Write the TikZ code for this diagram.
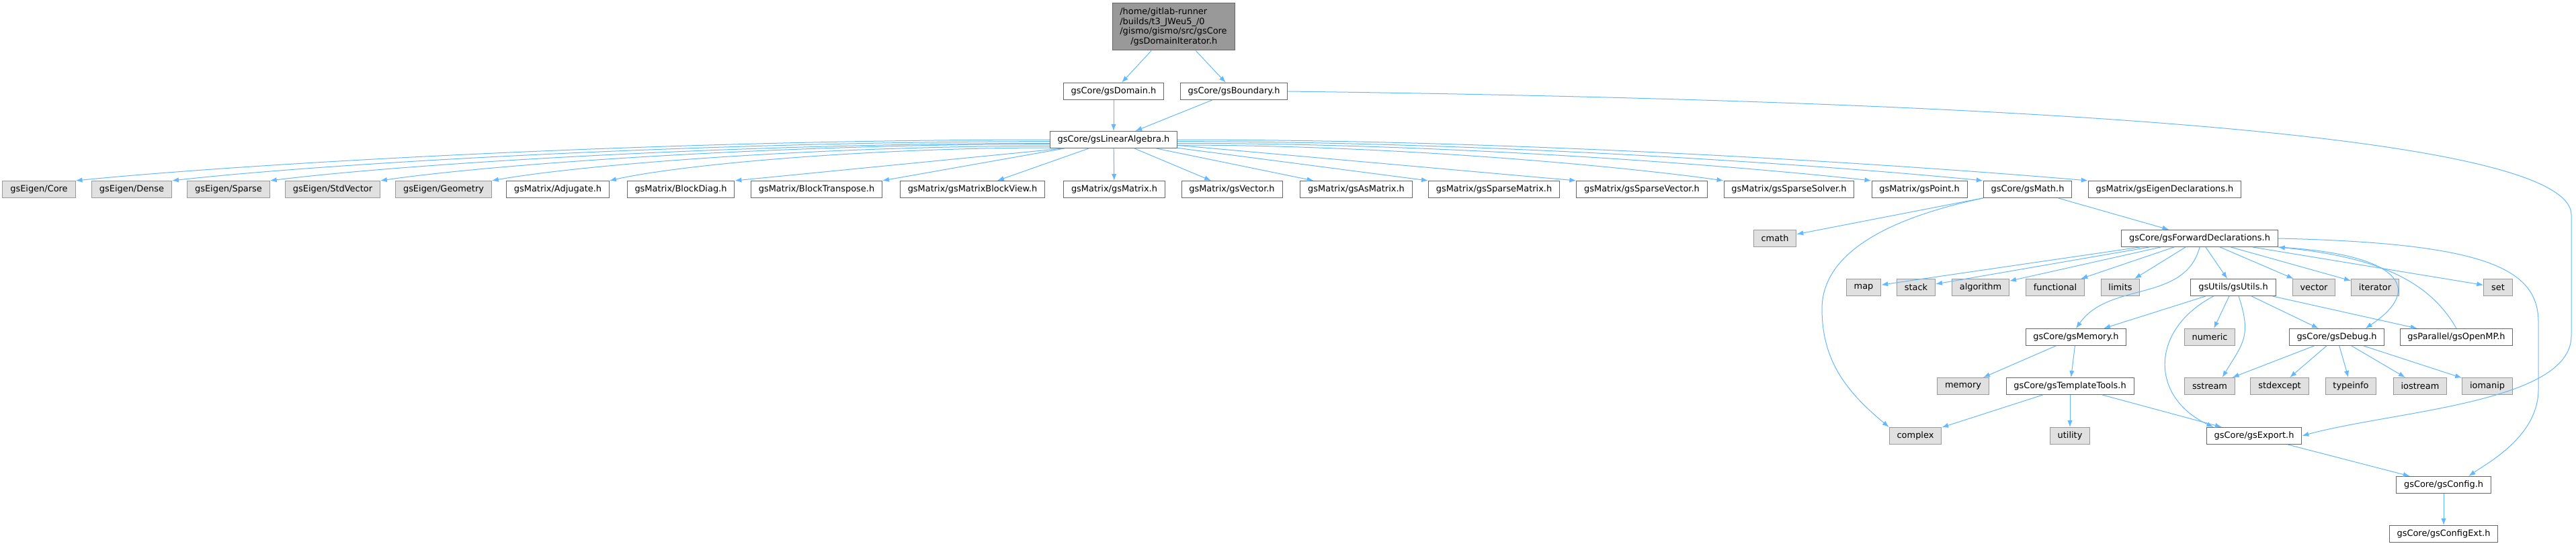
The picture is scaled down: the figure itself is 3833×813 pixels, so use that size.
\documentclass[tikz,border=0pt]{standalone}
\usepackage{fontspec}
\setmainfont{DejaVu Sans}
\usepackage{xcolor}
\usepackage{tikz}
\usetikzlibrary{arrows.meta}

\definecolor{incblue}{HTML}{63B8FF}
\definecolor{boxline}{HTML}{666666}
\definecolor{sysline}{HTML}{999999}
\definecolor{sysfill}{HTML}{E0E0E0}
\definecolor{rootfill}{HTML}{999999}

\begin{document}
\begin{tikzpicture}[x=0.75pt,y=-0.75pt,>={Latex[length=7.5pt,width=5.5pt]},
  every node/.style={font=\fontsize{9.7}{10.9}\selectfont},
  hdr/.style={draw=boxline,fill=white,line width=0.75pt,minimum height=18.75pt,inner xsep=8.5pt,inner ysep=1pt},
  syshdr/.style={hdr,draw=sysline,fill=sysfill},
  roothdr/.style={hdr,fill=rootfill,align=left,minimum height=52.5pt},
  incl/.style={->,draw=incblue,line width=0.75pt}]

\useasboundingbox (0,0) rectangle (3833,813);

% the documented file and its direct includes
\node[roothdr] (root) at (1746,40) {/home/gitlab-runner\\/builds/t3\_JWeu5\_/0\\/gismo/gismo/src/gsCore\\\hspace*{12pt}/gsDomainIterator.h};
\node[hdr] (dom) at (1657,136) {gsCore/gsDomain.h};
\node[hdr] (bnd) at (1836,136) {gsCore/gsBoundary.h};
\node[hdr] (linalg) at (1657,208) {gsCore/gsLinearAlgebra.h};

% row of headers pulled in by gsLinearAlgebra.h
\node[syshdr] (eCore) at (58,282) {gsEigen/Core};
\node[syshdr] (eDense) at (196,282) {gsEigen/Dense};
\node[syshdr] (eSparse) at (340,282) {gsEigen/Sparse};
\node[syshdr] (eStdVec) at (495,282) {gsEigen/StdVector};
\node[syshdr] (eGeom) at (660,282) {gsEigen/Geometry};
\node[hdr] (mAdj) at (830,282) {gsMatrix/Adjugate.h};
\node[hdr] (mBlkDiag) at (1013,282) {gsMatrix/BlockDiag.h};
\node[hdr] (mBlkTr) at (1215,282) {gsMatrix/BlockTranspose.h};
\node[hdr] (mBlkView) at (1447,282) {gsMatrix/gsMatrixBlockView.h};
\node[hdr] (mMatrix) at (1658,282) {gsMatrix/gsMatrix.h};
\node[hdr] (mVector) at (1833,282) {gsMatrix/gsVector.h};
\node[hdr] (mAsMat) at (2018,282) {gsMatrix/gsAsMatrix.h};
\node[hdr] (mSpMat) at (2223,282) {gsMatrix/gsSparseMatrix.h};
\node[hdr] (mSpVec) at (2443,282) {gsMatrix/gsSparseVector.h};
\node[hdr] (mSpSolv) at (2662,282) {gsMatrix/gsSparseSolver.h};
\node[hdr] (mPoint) at (2856,282) {gsMatrix/gsPoint.h};
\node[hdr] (cMath) at (3017,282) {gsCore/gsMath.h};
\node[hdr] (mEigDecl) at (3221,282) {gsMatrix/gsEigenDeclarations.h};

% gsMath.h and below
\node[syshdr] (sCmath) at (2641,355) {cmath};
\node[hdr] (fwdDecl) at (3273,355) {gsCore/gsForwardDeclarations.h};

\node[syshdr] (sMap) at (2773,428) {map};
\node[syshdr] (sStack) at (2851,428) {stack};
\node[syshdr] (sAlgo) at (2947,428) {algorithm};
\node[syshdr] (sFunc) at (3058,428) {functional};
\node[syshdr] (sLimits) at (3155,428) {limits};
\node[hdr] (uUtils) at (3323,428) {gsUtils/gsUtils.h};
\node[syshdr] (sVector) at (3443,428) {vector};
\node[syshdr] (sIter) at (3534,428) {iterator};
\node[syshdr] (sSet) at (3717,428) {set};

\node[hdr] (cMemory) at (3089,502) {gsCore/gsMemory.h};
\node[syshdr] (sNumeric) at (3288,502) {numeric};
\node[hdr] (cDebug) at (3477,502) {gsCore/gsDebug.h};
\node[hdr] (pOpenMP) at (3655,502) {gsParallel/gsOpenMP.h};

\node[syshdr] (sMemory) at (2921,575) {memory};
\node[hdr] (cTmpl) at (3080,575) {gsCore/gsTemplateTools.h};
\node[syshdr] (sSstream) at (3288,575) {sstream};
\node[syshdr] (sStdexc) at (3392,575) {stdexcept};
\node[syshdr] (sTypeinfo) at (3498,575) {typeinfo};
\node[syshdr] (sIostream) at (3601,575) {iostream};
\node[syshdr] (sIomanip) at (3701,575) {iomanip};

\node[syshdr] (sComplex) at (2850,649) {complex};
\node[syshdr] (sUtility) at (3080,649) {utility};
\node[hdr] (cExport) at (3354,649) {gsCore/gsExport.h};

\node[hdr] (cConfig) at (3636,722) {gsCore/gsConfig.h};
\node[hdr] (cConfigExt) at (3636,795) {gsCore/gsConfigExt.h};

% top edges
\draw[incl] (root) -- (dom);
\draw[incl] (root) -- (bnd);
\draw[incl] (dom) -- (linalg);
\draw[incl] (bnd) -- (linalg);
\draw[incl] (bnd.east) .. controls (3000,150) and (3826,200) .. (3826,320) -- (3826,500) .. controls (3826,600) and (3560,612) .. (cExport.east);

% gsLinearAlgebra.h fan
\draw[incl] (linalg.west) .. controls +(-580,0) and +(250,-25) .. (eCore.north east);
\draw[incl] ([yshift=-2pt]linalg.west) .. controls +(-520,0) and +(220,-25) .. (eDense.north east);
\draw[incl] ([yshift=-4pt]linalg.west) .. controls +(-465,0) and +(200,-25) .. (eSparse.north east);
\draw[incl] ([yshift=-5pt]linalg.west) .. controls +(-400,0) and +(170,-25) .. (eStdVec.north east);
\draw[incl] ([yshift=-7pt]linalg.west) .. controls +(-330,0) and +(140,-25) .. (eGeom.north east);
\draw[incl] ([yshift=-9pt]linalg.west) .. controls +(-260,0) and +(110,-25) .. (mAdj.north east);
\draw[incl] ([xshift=15pt]linalg.south west) -- (mBlkDiag.north east);
\draw[incl] (linalg) -- (mBlkTr.north east);
\draw[incl] (linalg) -- (mBlkView);
\draw[incl] (linalg) -- (mMatrix);
\draw[incl] (linalg) -- (mVector);
\draw[incl] (linalg) -- (mAsMat);
\draw[incl] (linalg) -- (mSpMat.north west);
\draw[incl] (linalg) -- (mSpVec.north west);
\draw[incl] ([yshift=-6pt]linalg.east) .. controls +(330,0) and +(-140,-20) .. (mSpSolv.north west);
\draw[incl] ([yshift=-4pt]linalg.east) .. controls +(420,0) and +(-180,-20) .. (mPoint.north west);
\draw[incl] ([yshift=-2pt]linalg.east) .. controls +(480,0) and +(-200,-20) .. (cMath.north west);
\draw[incl] (linalg.east) .. controls +(540,0) and +(-230,-20) .. (mEigDecl.north west);

% gsMath.h
\draw[incl] (cMath) -- (sCmath);
\draw[incl] (cMath) -- (fwdDecl);
\draw[incl] (cMath.south west) .. controls +(-170,36) and +(0,-70) .. (2711,460) .. controls +(0,80) and +(-60,-50) .. (sComplex.north west);

% gsForwardDeclarations.h
\draw[incl] (fwdDecl) -- (sMap);
\draw[incl] (fwdDecl) -- (sStack);
\draw[incl] (fwdDecl) -- (sAlgo);
\draw[incl] (fwdDecl) -- (sFunc);
\draw[incl] (fwdDecl) -- (sLimits);
\draw[incl] (fwdDecl) -- (uUtils);
\draw[incl] (fwdDecl) -- (sVector);
\draw[incl] (fwdDecl) -- (sIter);
\draw[incl] (fwdDecl) -- (sSet);
\draw[incl] (fwdDecl.south) to[out=-105,in=55] (cMemory.north);
\draw[incl] (fwdDecl.south east) .. controls +(180,10) and +(90,-60) .. ([xshift=32pt]cDebug.north);
\draw[incl] (fwdDecl.east) .. controls (3700,362) and (3777,400) .. (3777,480) -- (3777,580) .. controls (3777,650) and (3700,690) .. ([xshift=28pt]cConfig.north);
\draw[incl] (pOpenMP.north) .. controls +(-40,-70) and +(150,15) .. (fwdDecl.south east);

% gsUtils.h
\draw[incl] (uUtils) -- (cMemory);
\draw[incl] (uUtils) -- (sNumeric);
\draw[incl] ([xshift=6pt]uUtils.south) .. controls +(20,60) and +(30,-50) .. ([xshift=14pt]sSstream.north);
\draw[incl] ([xshift=-22pt]uUtils.south) .. controls +(-95,50) and +(-95,-45) .. ([xshift=8pt]cExport.north west);
\draw[incl] (uUtils) -- (cDebug);
\draw[incl] (uUtils) -- (pOpenMP);

% gsMemory.h and gsTemplateTools.h
\draw[incl] (cMemory) -- (sMemory);
\draw[incl] (cMemory) -- (cTmpl);
\draw[incl] (cTmpl) -- (sComplex);
\draw[incl] (cTmpl) -- (sUtility);
\draw[incl] (cTmpl) -- (cExport);

% gsDebug.h
\draw[incl] (cDebug) -- (sSstream);
\draw[incl] (cDebug) -- (sStdexc);
\draw[incl] (cDebug) -- (sTypeinfo);
\draw[incl] (cDebug) -- (sIostream);
\draw[incl] (cDebug) -- (sIomanip);

% config chain
\draw[incl] (cExport) -- (cConfig);
\draw[incl] (cConfig) -- (cConfigExt);
\end{tikzpicture}
\end{document}
